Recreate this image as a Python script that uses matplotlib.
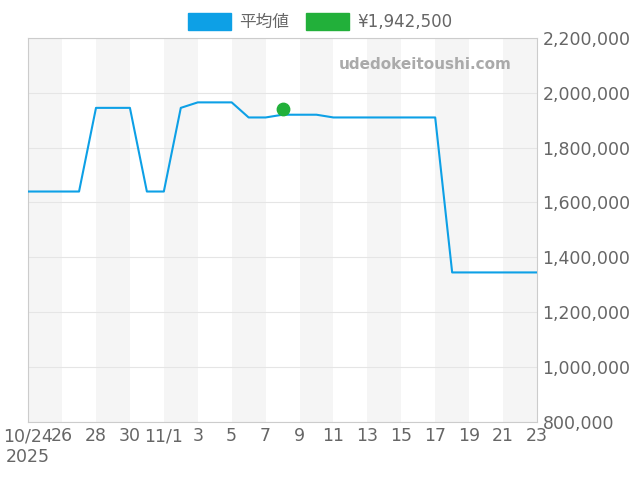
import matplotlib
matplotlib.use("Agg")
import matplotlib.pyplot as plt
import matplotlib.patches as mpatches
import numpy as np

plt.rcParams['font.family'] = ['DejaVu Sans', 'Noto Sans CJK JP']

avg = [1640000, 1640000, 1640000, 1640000, 1945000, 1945000, 1945000, 1640000, 1640000,
       1945000, 1965000, 1965000, 1965000, 1910000, 1910000, 1920000, 1920000, 1920000,
       1910000, 1910000, 1910000, 1910000, 1910000, 1910000, 1910000,
       1345000, 1345000, 1345000, 1345000, 1345000, 1345000]
point_day = 15
point_val = 1942500
tick_labels = ["10/24\n2025", "26", "28", "30", "11/1", "3", "5", "7", "9", "11",
               "13", "15", "17", "19", "21", "23"]

x = np.arange(len(avg))
fig = plt.figure(figsize=(6.4, 4.8), dpi=100)
ax = fig.add_axes([0.044, 0.121, 0.795, 0.8])
for s in range(0, len(avg) - 1, 4):
    ax.axvspan(s, s + 2, color='#f5f5f5', lw=0, zorder=0)
ax.plot(x, avg, color='#0da0e6', lw=1.5, zorder=3)
ax.scatter([point_day], [point_val], color='#22b03a', s=80, zorder=4)
ax.set_xlim(0, 30)
ax.set_ylim(800000, 2200000)
ax.set_xticks(np.arange(0, 31, 2))
ax.set_xticklabels(tick_labels)
yt = np.arange(800000, 2200001, 200000)
ax.set_yticks(yt)
ax.set_yticklabels([f"{v:,}" for v in yt])
ax.yaxis.tick_right()
ax.tick_params(colors='#666666', labelsize=12.5, length=0, pad=4)
ax.grid(axis='y', color='#e5e5e5', lw=0.8)
for sp in ax.spines.values():
    sp.set_color('#cccccc')
ax.text(0.95, 0.93, "udedokeitoushi.com", transform=ax.transAxes, ha='right', va='center',
        color='#aaaaaa', fontsize=11, fontweight='bold')
handles = [mpatches.Patch(color='#0da0e6', label='平均値'),
           mpatches.Patch(color='#22b03a', label='¥1,942,500')]
leg = fig.legend(handles=handles, loc='upper center', bbox_to_anchor=(0.5, 1.005), ncol=2,
                 frameon=False, fontsize=12, handlelength=2.6, handleheight=1.2,
                 columnspacing=1, handletextpad=0.5)
for t in leg.get_texts():
    t.set_color('#666666')
fig.savefig("out.png", dpi=100)
